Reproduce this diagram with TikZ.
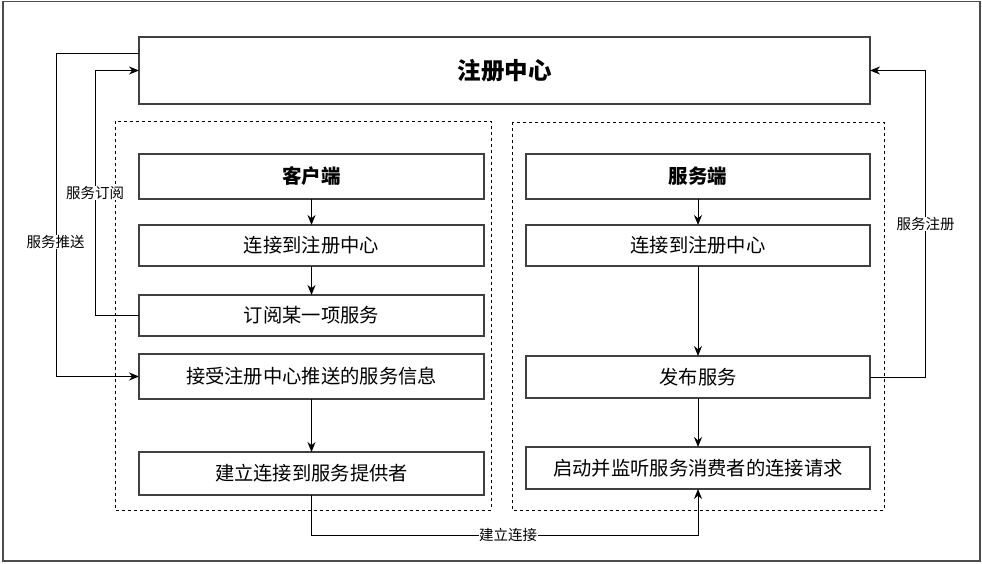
\documentclass[tikz,border=0pt]{standalone}
\usepackage{fontspec}
\setmainfont{Noto Sans CJK SC}
\usetikzlibrary{arrows.meta}
\begin{document}
\begin{tikzpicture}[x=1pt,y=-1pt,
  box/.style={draw=black!75,line width=1.2pt,fill=white,inner sep=0pt,outer sep=0pt,
    minimum width=345pt,font=\fontsize{19.3}{21}\selectfont},
  sbox/.style={box,minimum width=344pt},
  hdr/.style={font=\bfseries\fontsize{19.5}{21}\selectfont},
  grp/.style={draw=black,line width=0.9pt,dash pattern=on 3pt off 3pt},
  arr/.style={draw=black,line width=1pt,-{Stealth[length=10pt,width=8pt]}},
  lbl/.style={fill=white,inner sep=0.5pt,font=\fontsize{14.5}{16}\selectfont}]
\useasboundingbox (0,0) rectangle (982,564);
\draw[draw=black!70,line width=1.6pt] (3,1.5) rectangle (980,561);
% groups
\draw[grp] (115,121) rectangle (491,510);
\draw[grp] (512,122) rectangle (884,510);
% registry
\node[box,minimum width=731pt,minimum height=67pt,font=\bfseries\fontsize{23.5}{25}\selectfont] (reg) at (504.5,70.5) {注册中心};
% client
\node[box,hdr,minimum height=45pt] (c0) at (311.5,176.5) {客户端};
\node[box,minimum height=41pt] (c1) at (311.5,245.5) {连接到注册中心};
\node[box,minimum height=41pt] (c2) at (311.5,315.5) {订阅某一项服务};
\node[box,minimum height=45pt] (c3) at (311.5,376.5) {接受注册中心推送的服务信息};
\node[box,minimum height=43pt] (c4) at (311.5,473.5) {建立连接到服务提供者};
% server
\node[sbox,hdr,minimum height=45pt] (s0) at (698,176.5) {服务端};
\node[sbox,minimum height=41pt] (s1) at (698,245.5) {连接到注册中心};
\node[sbox,minimum height=42pt] (s2) at (698,377) {发布服务};
\node[sbox,minimum height=42pt] (s3) at (698,468) {启动并监听服务消费者的连接请求};
% vertical arrows
\draw[arr] (c0) -- (c1);
\draw[arr] (c1) -- (c2);
\draw[arr] (c3) -- (c4);
\draw[arr] (s0) -- (s1);
\draw[arr] (s1) -- (s2);
\draw[arr] (s2) -- (s3);
% side connectors
\coordinate (regp) at (139,54);
\draw[arr] (c2.west) -- ++(-44,0) |- (reg.west);
\node[lbl] (lsub) at (95,193) {服务订阅};
\draw[arr] (regp) -- ++(-83,0) |- (c3.west);
\node[lbl] (lpush) at (55.5,242) {服务推送};
\draw[arr] (s2.east) -- ++(55,0) |- (reg.east);
\node[lbl] (lreg) at (925.5,224) {服务注册};
\draw[arr] (c4.south) -- ++(0,40) -| (s3.south);
\node[lbl] (lconn) at (508,535) {建立连接};
\end{tikzpicture}
\end{document}
